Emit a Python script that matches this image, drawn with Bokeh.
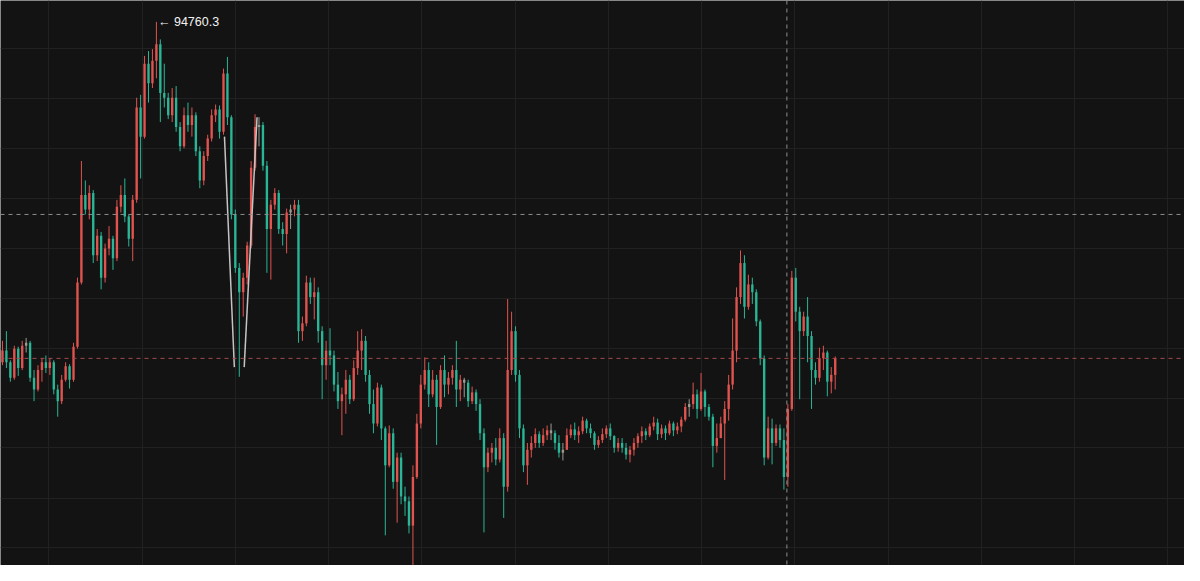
from bokeh.plotting import figure
from bokeh.models import FixedTicker, ColumnDataSource, Span, Label, Grid
from bokeh.embed import file_html
from bokeh.resources import INLINE

# ---------------- data (prices) ----------------
FIRST_OPEN = 91260
close = [
    91380, 91260, 91100, 91400, 91200, 91430, 91460, 91100, 90980, 91180,
    91260, 91200, 91260, 90980, 90860, 91080, 91220, 91080, 91420, 92080,
    92980, 92830, 93000, 92360, 92560, 92130, 92430, 92530, 92330, 92860,
    92980, 92760, 92530, 92930, 93880, 93580, 94330, 94130, 94360, 94530,
    94030, 93980, 93800, 93980, 93680, 93480, 93800, 93700, 93800, 93430,
    93130, 93380, 93560, 93800, 93860, 93630, 94230, 93780, 92780, 92230,
    91980, 92130, 92460, 93260, 93680, 93700, 93280, 92630, 92880, 93000,
    92630, 92580, 92800, 92830, 92880, 91580, 91660, 92080, 91930, 91980,
    91580, 91230, 91380, 91330, 91030, 90860, 90930, 91080, 90880, 91200,
    91380, 91480, 91130, 90830, 90630, 91000, 90580, 90200, 90530, 90030,
    90280, 89880, 89830, 89580, 90080, 90630, 91030, 91180, 90930, 91080,
    90800, 91180, 91030, 91100, 91180, 90980, 91080, 91050, 90860, 90950,
    90830, 90530, 90180, 90330, 90380, 90260, 90480, 89980, 91180, 91580,
    91130, 90580, 90200, 90360, 90430, 90520, 90430, 90510, 90560, 90530,
    90430, 90330, 90360, 90510, 90570, 90510, 90550, 90660, 90580, 90530,
    90410, 90460, 90520, 90580, 90500, 90380, 90430, 90380, 90310, 90360,
    90430, 90500, 90550, 90510, 90600, 90640, 90520, 90580, 90530, 90630,
    90560, 90600, 90670, 90800, 90830, 90930, 90780, 90960, 90800, 90700,
    90400, 90480, 90630, 90780, 91030, 91380, 91930, 92280, 91830, 92060,
    91980, 91680, 91300, 90280, 90580, 90430, 90580, 90460, 90080, 90780,
    92130, 91780, 91580, 91730, 91530, 91180, 91100, 91300, 91360, 91060,
    91130, 91300,
]
high = [
    91480, 91580, 91280, 91430, 91420, 91480, 91510, 91480, 91180, 91230,
    91300, 91330, 91300, 91280, 91030, 91130, 91260, 91240, 91460, 92130,
    93330, 93130, 93080, 93030, 92630, 92600, 92480, 92660, 92560, 92930,
    93080, 93150, 92780, 92980, 93980, 94010, 94410, 94460, 94480, 94760.3,
    94580, 94330, 94030, 94080, 94100, 93730, 93880, 93930, 93880, 93830,
    93480, 93430, 93600, 93860, 93910, 93900, 94280, 94400, 93800, 92830,
    92280, 92180, 92500, 93330, 93810, 93780, 93730, 93330, 92930, 93050,
    93030, 92700, 92840, 92880, 92930, 92930, 91730, 92150, 92130, 92130,
    92030, 91630, 91480, 91610, 91380, 91160, 91000, 91180, 91130, 91280,
    91580, 91600, 91530, 91180, 90980, 91050, 91030, 90600, 90610, 90580,
    90330, 90330, 89980, 89880, 90200, 90730, 91130, 91310, 91260, 91180,
    91130, 91230, 91330, 91160, 91230, 91480, 91130, 91100, 91080, 91010,
    90980, 90880, 90580, 90380, 90430, 90480, 90580, 90530, 91910, 91780,
    91630, 91180, 90620, 90430, 90500, 90580, 90550, 90580, 90610, 90630,
    90560, 90510, 90430, 90580, 90620, 90640, 90600, 90700, 90680, 90630,
    90550, 90500, 90580, 90610, 90630, 90510, 90480, 90480, 90430, 90400,
    90480, 90530, 90600, 90580, 90630, 90700, 90680, 90620, 90610, 90660,
    90650, 90640, 90700, 90840, 90880, 91050, 90980, 91150, 90980, 90830,
    90730, 90630, 90700, 90860, 91130, 91710, 92030, 92410, 92360, 92160,
    92130, 92010, 91700, 91330, 90700, 90680, 90620, 90620, 90580, 90830,
    92200, 92230, 91830, 91780, 91930, 91580, 91260, 91410, 91430, 91380,
    91210, 91320,
]
low = [
    91230, 91200, 91060, 91080, 91120, 91180, 91360, 91060, 90860, 90960,
    91060, 91150, 91130, 90930, 90700, 90830, 91060, 90990, 91060, 91400,
    92060, 92780, 92730, 92280, 92300, 92010, 92080, 92360, 92210, 92300,
    92800, 92700, 92450, 92300, 92900, 93150, 93560, 93930, 94080, 94180,
    93730, 93880, 93760, 93730, 93630, 93430, 93460, 93630, 93580, 93380,
    93050, 93080, 93330, 93530, 93730, 93560, 93600, 93700, 92730, 92180,
    91110, 91730, 92060, 92430, 93230, 93480, 93230, 92180, 92110, 92830,
    92580, 92460, 92380, 92630, 92760, 91460, 91480, 91630, 91860, 91700,
    91460, 90880, 91080, 91230, 90960, 90780, 90510, 90730, 90830, 90860,
    91130, 91180, 91060, 90730, 90530, 90600, 90460, 89480, 90180, 89960,
    89610, 89800, 89680, 89500, 89130, 90060, 90580, 90980, 90800, 90900,
    90410, 90780, 90900, 90930, 91030, 90800, 90860, 90900, 90800, 90830,
    90760, 90460, 89510, 90130, 90230, 90200, 90230, 89660, 89930, 91130,
    91060, 90480, 90130, 90000, 90280, 90380, 90380, 90400, 90460, 90460,
    90360, 90280, 90250, 90360, 90480, 90460, 90430, 90520, 90530, 90480,
    90360, 90380, 90430, 90480, 90460, 90330, 90340, 90330, 90260, 90230,
    90300, 90380, 90430, 90460, 90490, 90560, 90460, 90480, 90460, 90510,
    90500, 90520, 90540, 90650, 90700, 90780, 90680, 90760, 90700, 90660,
    90180, 90330, 90480, 90050, 90660, 90980, 91260, 91860, 91710, 91800,
    91860, 91630, 91230, 90200, 90260, 90210, 90400, 90380, 89950, 89980,
    90760, 91680, 90880, 91530, 91260, 90780, 91030, 91060, 91180, 90910,
    90940, 90980,
]

# whitish V drawing (two straight segments)
v_x = [[56.25, 58.75], [61.25, 64.5]]
v_y = [[93580, 91210], [91210, 93780]]

# reference levels
grey_level = 92780
last_level = 91300
cursor_x = 198.75

grid_x = [11.75, 35.375, 59.0, 82.625, 106.25, 129.875, 153.5, 177.125,
          200.75, 224.375, 248.0, 271.625, 295.25]
grid_y = [94490, 93970, 93460, 92940, 92430, 91920, 91405, 90890, 90380,
          89860, 89350]

# ---------------- styling ----------------
BG = "#131313"
GRID = "#212121"
UP = "#e0534f"
DOWN = "#29b696"
FLAT = "#9d9a92"

open_ = [FIRST_OPEN] + close[:-1]
idx = list(range(len(close)))
colors = []
for o, c in zip(open_, close):
    if abs(c - o) <= 30:
        colors.append(FLAT)
    elif c > o:
        colors.append(UP)
    else:
        colors.append(DOWN)

src = ColumnDataSource(dict(
    x=idx, open=open_, close=close, high=high, low=low,
    top=[max(o, c) for o, c in zip(open_, close)],
    bottom=[min(o, c) for o, c in zip(open_, close)],
    color=colors,
))

W, H = 1184, 565
p = figure(width=W, height=H, output_backend="svg", toolbar_location=None,
           x_range=(-0.5, 299.5), y_range=(89170, 94980),
           min_border=0, outline_line_color=None,
           background_fill_color=BG, border_fill_color=BG)
p.axis.visible = False
p.xgrid.ticker = FixedTicker(ticks=grid_x)
p.ygrid.ticker = FixedTicker(ticks=grid_y)
p.grid.grid_line_color = GRID
p.grid.grid_line_width = 1

p.add_layout(Span(location=grey_level, dimension="width", line_color="#8e8e8e",
                  line_dash="4 4", line_width=1))
p.add_layout(Span(location=last_level, dimension="width", line_color="#a84c4c",
                  line_dash="4 4", line_width=1))
p.add_layout(Span(location=cursor_x, dimension="height", line_color="#8e8e8e",
                  line_dash="4 4", line_width=1))

p.segment(x0="x", y0="low", x1="x", y1="high", color="color", line_width=1,
          source=src)
p.vbar(x="x", width=0.6, top="top", bottom="bottom", fill_color="color",
       line_color=None, source=src)

p.multi_line(xs=v_x, ys=v_y, line_color="#c4c4c4", line_width=1.5)

peak_i = max(idx, key=lambda i: high[i])
p.add_layout(Label(x=peak_i + 0.4, y=high[peak_i], text=f"← {high[peak_i]:.1f}",
                   text_color="#f2f2f2", text_font="Liberation Sans",
                   text_font_size="12.5px", text_baseline="middle",
                   text_align="left"))

open("out.html", "w").write(file_html(p, INLINE))
